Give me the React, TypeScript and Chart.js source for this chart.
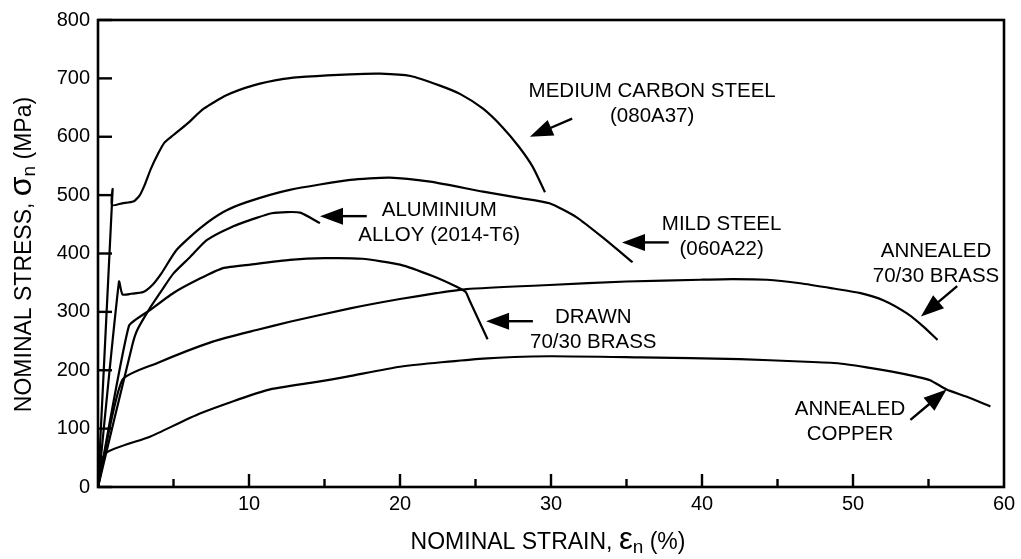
import React, { useEffect, useRef } from "react";
import { Chart, registerables } from "chart.js";

Chart.register(...registerables);

// ---- data (strain %, nominal stress MPa) ----
const mediumCarbonStrain = [0, 0.97, 0.92, 1.6, 2.34, 2.75, 3.1, 3.5, 4.0, 4.4, 5.0, 5.9, 7.0, 8.5, 10.3, 12.3, 13.8, 16.7, 18.7, 20.7, 22.6, 24.0, 25.5, 26.8, 27.9, 28.8, 29.6];
const mediumCarbonStress = [0, 510, 483, 486, 489, 499, 518, 545, 572, 590, 603, 622, 648, 671, 688, 699, 703, 707, 708, 704, 688, 673, 648, 616, 582, 548, 505];

const mildSteelStrain = [0, 1.39, 1.62, 2.2, 3.0, 3.6, 4.2, 5.2, 6.75, 8.3, 9.85, 12.7, 16.7, 19.3, 22.0, 25.5, 28.0, 29.9, 31.7, 33.4, 35.4];
const mildSteelStress = [0, 352, 330, 331, 334, 346, 366, 406, 443, 471, 488, 509, 526, 530, 523, 506, 495, 486, 462, 428, 385];

const aluminiumStrain = [0, 2.27, 2.6, 3.5, 4.3, 5.0, 6.1, 7.2, 8.9, 10.5, 11.5, 12.5, 13.4, 14.7];
const aluminiumStress = [0, 243, 269, 309, 340, 366, 394, 423, 446, 461, 469, 471, 470, 452];

const drawnBrassStrain = [0, 2.05, 3.44, 4.97, 6.75, 8.28, 10.1, 12.7, 15.0, 17.5, 20.0, 22.2, 23.75, 24.35, 24.6, 25.8];
const drawnBrassStress = [0, 276, 303, 332, 357, 375, 381, 389, 392, 391, 381, 361, 343, 334, 320, 253];

const annealedBrassStrain = [0, 1.6, 3.9, 7.6, 10.5, 12.7, 16.7, 20.0, 22.4, 24.4, 29.9, 35.0, 39.9, 42.0, 44.3, 46.5, 48.7, 50.5, 52.0, 53.6, 54.7, 55.6];
const annealedBrassStress = [0, 183, 212, 249, 269, 283, 306, 322, 332, 339, 346, 352, 355, 356, 355, 349, 340, 332, 320, 297, 274, 252];

const copperStrain = [0, 0.46, 3.44, 6.75, 11.2, 14.5, 16.5, 20.0, 25.5, 29.9, 35.9, 42.5, 46.5, 49.0, 50.9, 52.5, 54.2, 55.1, 56.2, 57.5, 59.1];
const copperStress = [0, 57, 86, 126, 166, 180, 189, 206, 220, 224, 222, 219, 215, 212, 205, 198, 189, 183, 167, 155, 138];

const yTickValues = [0, 100, 200, 300, 400, 500, 600, 700, 800];
const xMajorTicks = [10, 20, 30, 40, 50];
const xMinorTicks = [5, 15, 25, 35, 45, 55];

// label text with anchor (data coords of first line centre)
const labelLines = [
  ["MEDIUM CARBON STEEL", "(080A37)"],
  ["ALUMINIUM", "ALLOY (2014-T6)"],
  ["MILD STEEL", "(060A22)"],
  ["ANNEALED", "70/30 BRASS"],
  ["DRAWN", "70/30 BRASS"],
  ["ANNEALED", "COPPER"],
];
const labelX = [36.7, 22.6, 41.3, 55.5, 32.8, 49.8];
const labelY = [680, 476, 453, 407, 293, 136];

// arrows: tail -> tip in data coords
const arrowTailX = [31.4, 17.8, 37.8, 28.8, 56.9, 53.8];
const arrowTailY = [631, 464, 419, 284, 344, 115];
const arrowTipX = [28.6, 14.7, 34.7, 25.7, 54.5, 56.2];
const arrowTipY = [600, 464, 419, 284, 292, 167];

const FONT = '"Liberation Sans", Arial, Helvetica, sans-serif';

function pts(xs: number[], ys: number[]) {
  return xs.map((x, i) => ({ x, y: ys[i] }));
}

const decorPlugin = {
  id: "decor",
  afterDraw(chart: any) {
    const { ctx, chartArea: a } = chart;
    const xs = chart.scales.x;
    const ys = chart.scales.y;
    ctx.save();
    ctx.strokeStyle = "#000";
    ctx.fillStyle = "#000";
    ctx.lineCap = "butt";

    const line = (x1: number, y1: number, x2: number, y2: number) => {
      ctx.beginPath();
      ctx.moveTo(x1, y1);
      ctx.lineTo(x2, y2);
      ctx.stroke();
    };

    // frame
    ctx.lineWidth = 2.6;
    ctx.strokeRect(a.left, a.top, a.right - a.left, a.bottom - a.top);

    // ticks (inward)
    ctx.lineWidth = 2.4;
    yTickValues.forEach((v) => {
      const py = ys.getPixelForValue(v);
      line(a.left, py, a.left + 14, py);
    });
    xMajorTicks.forEach((v) => {
      const px = xs.getPixelForValue(v);
      line(px, a.bottom, px, a.bottom - 13);
    });
    xMinorTicks.forEach((v) => {
      const px = xs.getPixelForValue(v);
      line(px, a.bottom, px, a.bottom - 8);
    });

    // labels
    ctx.font = `20.5px ${FONT}`;
    ctx.textAlign = "center";
    ctx.textBaseline = "alphabetic";
    labelLines.forEach((lines, i) => {
      const cx = xs.getPixelForValue(labelX[i]);
      const cy = ys.getPixelForValue(labelY[i]);
      lines.forEach((t, j) => {
        ctx.fillText(t, cx, cy + j * 25 + 7.3);
      });
    });

    // arrows
    ctx.lineWidth = 2.4;
    arrowTipX.forEach((_, i) => {
      const tx = xs.getPixelForValue(arrowTipX[i]);
      const ty = ys.getPixelForValue(arrowTipY[i]);
      const sx = xs.getPixelForValue(arrowTailX[i]);
      const sy = ys.getPixelForValue(arrowTailY[i]);
      const dx = sx - tx;
      const dy = sy - ty;
      const len = Math.hypot(dx, dy);
      const ux = dx / len;
      const uy = dy / len;
      const headLen = 23;
      const halfW = 8.5;
      const bx = tx + ux * headLen;
      const by = ty + uy * headLen;
      line(bx - ux * 2, by - uy * 2, sx, sy);
      ctx.beginPath();
      ctx.moveTo(tx, ty);
      ctx.lineTo(bx - uy * halfW, by + ux * halfW);
      ctx.lineTo(bx + uy * halfW, by - ux * halfW);
      ctx.closePath();
      ctx.fill();
    });

    // axis titles with subscripts
    const drawSegs = (segs: [string, number, number][], cx: number, baseY: number) => {
      ctx.textAlign = "left";
      let total = 0;
      segs.forEach(([t, s]) => {
        ctx.font = `${s}px ${FONT}`;
        total += ctx.measureText(t).width;
      });
      let x = cx - total / 2;
      segs.forEach(([t, s, off]) => {
        ctx.font = `${s}px ${FONT}`;
        ctx.fillText(t, x, baseY + off);
        x += ctx.measureText(t).width;
      });
    };

    drawSegs(
      [
        ["NOMINAL STRAIN, ", 23, 0],
        ["\u03b5", 31, 0],
        ["n", 19, 4],
        [" (%)", 23, 0],
      ],
      (a.left + a.right) / 2 - 3,
      549
    );

    ctx.save();
    ctx.translate(31, (a.top + a.bottom) / 2 + 1);
    ctx.rotate(-Math.PI / 2);
    drawSegs(
      [
        ["NOMINAL STRESS, ", 23, 0],
        ["\u03c3", 32, 0],
        ["n", 19, 4],
        [" (MPa)", 23, 0],
      ],
      0,
      0
    );
    ctx.restore();

    ctx.restore();
  },
};

export default function App() {
  const ref = useRef<HTMLCanvasElement | null>(null);

  useEffect(() => {
    if (!ref.current) return;
    const mk = (xs: number[], ys: number[], tension: number) => ({
      data: pts(xs, ys),
      showLine: true,
      borderColor: "#000",
      backgroundColor: "#000",
      borderWidth: 2.2,
      pointRadius: 0,
      fill: false,
      tension,
    });
    const chart = new Chart(ref.current, {
      type: "scatter",
      data: {
        datasets: [
          { label: "Medium carbon steel (080A37)", ...mk(mediumCarbonStrain, mediumCarbonStress, 0.2) },
          { label: "Mild steel (060A22)", ...mk(mildSteelStrain, mildSteelStress, 0.2) },
          { label: "Aluminium alloy (2014-T6)", ...mk(aluminiumStrain, aluminiumStress, 0.2) },
          { label: "Drawn 70/30 brass", ...mk(drawnBrassStrain, drawnBrassStress, 0.15) },
          { label: "Annealed 70/30 brass", ...mk(annealedBrassStrain, annealedBrassStress, 0.2) },
          { label: "Annealed copper", ...mk(copperStrain, copperStress, 0.2) },
        ],
      },
      options: {
        responsive: false,
        animation: false,
        devicePixelRatio: 1,
        layout: { padding: { top: 19, right: 17, left: 0, bottom: 0 } },
        plugins: { legend: { display: false }, tooltip: { enabled: false } },
        scales: {
          x: {
            type: "linear",
            min: 0,
            max: 60,
            grid: { display: false, drawTicks: false },
            border: { display: false },
            ticks: {
              stepSize: 10,
              color: "#000",
              padding: 5,
              maxRotation: 0,
              autoSkip: false,
              font: { family: FONT, size: 20 },
              callback: (v: any) => (v === 0 ? "" : String(v)),
            },
            afterFit: (s: any) => {
              s.height = 72;
            },
          },
          y: {
            type: "linear",
            min: 0,
            max: 800,
            grid: { display: false, drawTicks: false },
            border: { display: false },
            ticks: {
              stepSize: 100,
              color: "#000",
              padding: 8,
              autoSkip: false,
              font: { family: FONT, size: 20 },
            },
            afterFit: (s: any) => {
              s.width = 98;
            },
          },
        },
      },
      plugins: [decorPlugin],
    });
    return () => chart.destroy();
  }, []);

  return (
    <div style={{ position: "absolute", left: 0, top: 0, width: 1021, height: 559, background: "#fff" }}>
      <canvas ref={ref} width={1021} height={559} style={{ display: "block" }} />
    </div>
  );
}
